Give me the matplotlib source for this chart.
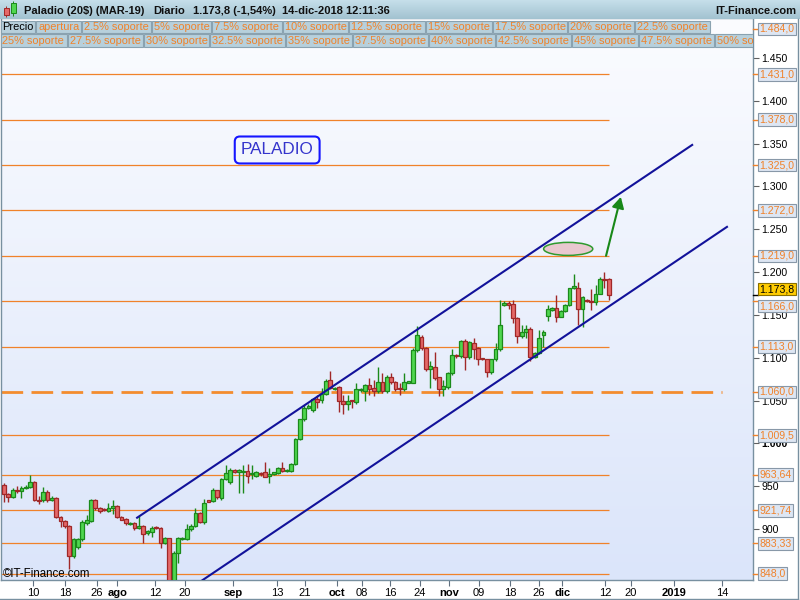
import numpy as np
import matplotlib
matplotlib.use("Agg")
import matplotlib.pyplot as plt
import matplotlib.transforms as mtransforms
from matplotlib.colors import LinearSegmentedColormap
from matplotlib.patches import Rectangle, Ellipse

plt.rcParams["font.family"] = ["Liberation Sans", "DejaVu Sans"]

# daily candles, Paladio (20$) MAR-19, jul - dic 2018
opens = [951, 941, 937, 946, 944, 948, 949, 955, 934, 934, 943, 934, 936, 914, 909, 904,
         868, 879, 888, 907, 909, 934, 925, 923, 921, 925, 927, 914, 912, 906, 907, 901,
         904, 895, 897, 902, 901, 884, 889, 835, 872, 888, 888, 900, 903, 919, 908, 933,
         933, 945, 936, 958, 955, 969, 967, 966, 968, 964, 962, 965, 967, 962, 964, 965,
         971, 968, 968, 976, 1005, 1028, 1041, 1039, 1052, 1051, 1058, 1074, 1063, 1066,
         1050, 1046, 1050, 1048, 1062, 1061, 1068, 1065, 1061, 1072, 1061, 1078, 1072, 1065,
         1063, 1071, 1071, 1109, 1124, 1111, 1087, 1089, 1077, 1063, 1066, 1082, 1103, 1102,
         1120, 1101, 1117, 1111, 1099, 1098, 1083, 1098, 1110, 1162, 1164, 1163, 1146, 1125,
         1130, 1134, 1101, 1105, 1126, 1149, 1156, 1158, 1148, 1154, 1161, 1181, 1182, 1157,
         1168, 1166, 1165, 1175, 1192, 1192]
highs = [954, 942, 948, 950, 950, 951, 963, 956, 938, 949, 945, 938, 937, 915, 910, 905,
         890, 890, 911, 916, 935, 935, 926, 924, 930, 934, 928, 915, 913, 908, 908, 915,
         905, 899, 903, 903, 902, 891, 890, 874, 891, 891, 906, 906, 925, 920, 935, 934,
         948, 946, 960, 975, 971, 970, 970, 975, 976, 975, 968, 966, 978, 971, 967, 972,
         978, 970, 977, 1006, 1029, 1045, 1046, 1053, 1057, 1065, 1075, 1084, 1066, 1067,
         1057, 1057, 1051, 1070, 1065, 1069, 1076, 1074, 1089, 1082, 1080, 1082, 1073, 1070,
         1082, 1073, 1111, 1137, 1126, 1112, 1096, 1107, 1078, 1074, 1083, 1110, 1104, 1121,
         1122, 1119, 1123, 1112, 1100, 1099, 1099, 1117, 1168, 1166, 1166, 1167, 1147, 1138,
         1138, 1136, 1107, 1132, 1132, 1162, 1159, 1173, 1156, 1163, 1182, 1198, 1188, 1172,
         1169, 1180, 1185, 1194, 1200, 1193]
lows = [931, 932, 936, 942, 936, 947, 948, 933, 929, 932, 932, 933, 913, 902, 901, 853,
        866, 877, 886, 905, 908, 922, 919, 921, 920, 917, 913, 910, 905, 905, 899, 900,
        884, 893, 891, 900, 878, 882, 828, 830, 860, 887, 887, 898, 902, 907, 906, 931,
        931, 935, 934, 957, 953, 965, 942, 942, 954, 958, 961, 962, 961, 954, 963, 964,
        967, 967, 967, 975, 1004, 1026, 1040, 1037, 1041, 1047, 1056, 1063, 1062, 1037,
        1034, 1039, 1041, 1046, 1060, 1050, 1057, 1055, 1059, 1059, 1059, 1069, 1061, 1057,
        1061, 1070, 1070, 1107, 1109, 1085, 1065, 1074, 1055, 1055, 1064, 1080, 1100, 1100,
        1086, 1099, 1098, 1092, 1097, 1078, 1081, 1096, 1108, 1160, 1157, 1140, 1117, 1123,
        1123, 1096, 1100, 1104, 1112, 1143, 1155, 1142, 1147, 1153, 1160, 1180, 1138, 1136,
        1165, 1156, 1162, 1174, 1181, 1168]
closes = [941, 937, 946, 944, 948, 949, 955, 934, 933, 943, 934, 936, 914, 909, 904, 868,
          888, 888, 908, 910, 934, 924, 921, 922, 925, 927, 914, 911, 907, 907, 901, 904,
          894, 898, 901, 901, 884, 889, 835, 872, 889, 889, 900, 904, 919, 908, 930, 932,
          946, 937, 958, 965, 969, 967, 968, 968, 962, 965, 966, 964, 961, 964, 966, 971,
          968, 969, 976, 1005, 1028, 1041, 1044, 1052, 1048, 1058, 1073, 1065, 1065, 1049,
          1046, 1049, 1049, 1063, 1063, 1068, 1063, 1061, 1072, 1061, 1078, 1072, 1064, 1063,
          1072, 1072, 1109, 1126, 1111, 1087, 1090, 1076, 1063, 1067, 1082, 1103, 1102, 1120,
          1101, 1118, 1110, 1099, 1098, 1083, 1098, 1110, 1138, 1164, 1162, 1146, 1125, 1130,
          1134, 1101, 1106, 1123, 1130, 1157, 1158, 1147, 1155, 1162, 1181, 1184, 1157, 1171,
          1166, 1165, 1175, 1192, 1191, 1173.8]

last_price = 1173.8
last_label = "1.173,8"

# support levels on the right scale
levels = [1484.0, 1431.0, 1378.0, 1325.0, 1272.0, 1219.0, 1166.0, 1113.0, 1060.0,
          1009.5, 963.64, 921.74, 883.33, 848.0]
level_labels = ["1.484,0", "1.431,0", "1.378,0", "1.325,0", "1.272,0", "1.219,0", "1.166,0",
                "1.113,0", "1.060,0", "1.009,5", "963,64", "921,74", "883,33", "848,0"]
dashed_level = 1060.0

price_ticks = [1450, 1400, 1350, 1300, 1250, 1200, 1150, 1100, 1050, 1000, 950, 900]
price_tick_labels = ["1.450", "1.400", "1.350", "1.300", "1.250", "1.200", "1.150",
                     "1.100", "1.050", "1.000", "950", "900"]

# date axis, in candle index units
date_tick_pos = [6.7, 14.0, 21.4, 26.0, 34.7, 41.6, 52.6, 62.8, 69.2, 76.6, 82.3, 88.7,
                 95.6, 102.3, 109.2, 116.3, 123.0, 128.3, 138.2, 144.1, 154.0, 165.1]
date_tick_labels = ["10", "18", "26", "ago", "12", "20", "sep", "13", "21", "oct", "08", "16",
                    "24", "nov", "09", "18", "26", "dic", "12", "20", "2019", "14"]
month_labels = ["ago", "sep", "oct", "nov", "dic", "2019"]

# drawn channel (index, price)
upper_x, upper_y = [30.6, 158.2], [913.2, 1348.5]
lower_x, lower_y = [44.0, 166.2], [834.7, 1252.8]

# header legend rows
row2_labels = ["Precio", "apertura", "2.5% soporte", "5% soporte", "7.5% soporte", "10% soporte",
               "12.5% soporte", "15% soporte", "17.5% soporte", "20% soporte", "22.5% soporte"]
row3_labels = ["25% soporte", "27.5% soporte", "30% soporte", "32.5% soporte", "35% soporte",
               "37.5% soporte", "40% soporte", "42.5% soporte", "45% soporte", "47.5% soporte",
               "50% soporte"]
row2_edges = [0, 36, 82, 152, 212, 283, 349, 426, 493, 568, 635, 711]
row3_edges = [0, 68, 144, 210, 286, 353, 429, 496, 572, 639, 715, 790]

W, H = 800, 600
X0, STEP = 4.0, 4.35          # pixel of first candle, pixels per candle
PX_PER_UNIT, Y_REF, V_REF = 0.8564, 58.0, 1450.0

GREEN, GREEN_E = "#4fd64f", "#1b8a1b"
RED, RED_E = "#e46868", "#a02828"
ORANGE = "#f0822a"
NAVY = "#12129a"
FRAME = "#7890a0"

fig = plt.figure(figsize=(8, 6), dpi=100)
fig.patch.set_facecolor("white")


def px_axes(x0, y0, x1, y1):
    return fig.add_axes([x0 / W, 1 - y1 / H, (x1 - x0) / W, (y1 - y0) / H])


def px2val(y):
    return V_REF - (y - Y_REF) / PX_PER_UNIT


def val2px(v):
    return Y_REF + (V_REF - v) * PX_PER_UNIT


ax = px_axes(1, 18, 753, 580)
xlim = ((1 - X0) / STEP, (753 - X0) / STEP)
ylim = (px2val(580), px2val(18))

bg = LinearSegmentedColormap.from_list("bg", ["#dbe5fa", "#fbfcff"])
ax.imshow(np.linspace(0, 1, 256).reshape(-1, 1), cmap=bg, origin="lower", aspect="auto",
          extent=[0, 1, 0, 1], transform=ax.transAxes, zorder=0)

last_idx = len(opens) - 1
solid = [v for v in levels if v != dashed_level]
ax.hlines(solid, xlim[0], last_idx, color=ORANGE, lw=0.9, zorder=1)
ax.hlines(dashed_level, xlim[0], 165, color="#f38c2e", lw=2.0, ls=(0, (7.8, 3.0)), zorder=1)

o = np.array(opens, float)
c = np.array(closes, float)
hi = np.array(highs, float)
lo = np.array(lows, float)
idx = np.arange(len(o))
up = c >= o
bottom = np.minimum(o, c)
height = np.maximum(np.abs(c - o), 1.4)
for m, fc, ec in [(up, GREEN, GREEN_E), (~up, RED, RED_E)]:
    ax.vlines(idx[m], lo[m], hi[m], color=ec, lw=1.0, zorder=3)
    ax.bar(idx[m], height[m], bottom=bottom[m], width=0.86, color=fc, edgecolor=ec,
           lw=0.9, zorder=4)

ax.plot(upper_x, upper_y, color=NAVY, lw=1.5, zorder=5)
ax.plot(lower_x, lower_y, color=NAVY, lw=1.5, zorder=5)

ax.add_patch(Ellipse((129.7, 1227.1), 11.3, 15.2, fc="#e9c8cf", ec="#2e9a2e", lw=1.1, zorder=6))
ax.annotate("", xy=(141.8, 1287.8), xytext=(138.4, 1219.0),
            arrowprops=dict(arrowstyle="-|>,head_length=0.55,head_width=0.3", color="#188818",
                            lw=1.5, shrinkA=0, shrinkB=0, mutation_scale=12), zorder=6)

ax.text(62.8, 1342.6, "PALADIO", fontsize=12.3, color="#3434cc", ha="center", va="center",
        bbox=dict(boxstyle="round,pad=0.35,rounding_size=0.3", fc="none", ec="#1515ff", lw=1.5),
        zorder=6)
ax.text(2 / 752, 6 / 562, "\u00a9IT-Finance.com", transform=ax.transAxes, fontsize=8.3,
        color="black", ha="left", va="center", zorder=7)

ax.set_xlim(*xlim)
ax.set_ylim(*ylim)

# right price scale
ax.yaxis.tick_right()
ax.set_yticks(price_ticks)
ax.set_yticklabels(price_tick_labels)
ax.tick_params(axis="y", length=4, width=0.8, color="#606060", pad=2, labelsize=7.6,
               labelcolor="black")
for t in ax.get_yticklabels():
    if t.get_text() == "1.000":
        t.set_fontweight("bold")

blend = mtransforms.blended_transform_factory(ax.transAxes, ax.transData)
dx = 5 / 752
# the last-price box pushes the neighbouring level label down a little
label_shift_px = {1166.0: 5.0}
for v, lab in zip(levels, level_labels):
    ax.plot([1.0, 1.0 + dx], [v, v], transform=blend, color=ORANGE, lw=1, clip_on=False, zorder=8)
    ty = px2val(val2px(v) + label_shift_px.get(v, 0.0))
    ax.text(1.0 + dx + 1.5 / 752, ty, lab, transform=blend, fontsize=7.6, color=ORANGE,
            ha="left", va="center", clip_on=False, zorder=9,
            bbox=dict(boxstyle="square,pad=0.12", fc="#dde6f3", ec="#8898a8", lw=0.8))
ax.plot([1.0, 1.0 + dx], [last_price, last_price], transform=blend, color="black", lw=1,
        clip_on=False, zorder=8)
ax.text(1.0 + dx + 1.5 / 752, px2val(val2px(last_price) - 5.5), last_label, transform=blend,
        fontsize=7.6, color="black", ha="left", va="center", clip_on=False, zorder=10,
        bbox=dict(boxstyle="square,pad=0.12", fc="#ffcc00", ec="#8a7000", lw=0.8))

# date scale
ax.set_xticks(date_tick_pos)
ax.set_xticklabels(date_tick_labels)
ax.tick_params(axis="x", length=4, width=0.8, color="#607080", pad=1.5, labelsize=8)
for t in ax.get_xticklabels():
    if t.get_text() in month_labels:
        t.set_fontweight("bold")
for s in ax.spines.values():
    s.set_color(FRAME)
    s.set_linewidth(1)

# title bar
tax = px_axes(0, 0, 800, 19)
tax.set_xlim(0, 800)
tax.set_ylim(19, 0)
tax.axis("off")
bar = LinearSegmentedColormap.from_list("bar", ["#a2c2d0", "#c6dfea"])
tax.imshow(np.linspace(0, 1, 64).reshape(-1, 1), cmap=bar, origin="lower", aspect="auto",
           extent=[0, 800, 19, 0], zorder=0)
tax.add_patch(Rectangle((4, 8), 4.5, 7, fc=RED, ec=RED_E, lw=0.7, zorder=2))
tax.vlines(6.25, 6, 17, color=RED_E, lw=0.7, zorder=1)
tax.add_patch(Rectangle((11, 3), 4.5, 10, fc=GREEN, ec=GREEN_E, lw=0.7, zorder=2))
tax.vlines(13.25, 1, 16, color=GREEN_E, lw=0.7, zorder=1)
for x, s in [(24, "Paladio (20$) (MAR-19)"), (153, "Diario"), (193, "1.173,8 (-1,54%)"),
             (282, "14-dic-2018 12:11:36")]:
    tax.text(x, 10.5, s, fontsize=8, fontweight="bold", color="#101010", ha="left", va="center")
tax.text(796, 10.5, "IT-Finance.com", fontsize=8, fontweight="bold", color="#101010",
         ha="right", va="center")

# legend rows
rax = px_axes(0, 19, 753, 49)
rax.set_xlim(0, 753)
rax.set_ylim(49, 19)
rax.axis("off")
rax.patch.set_alpha(0)
for labels, edges, y0, y1 in [(row2_labels, row2_edges, 20.5, 33.0),
                              (row3_labels, row3_edges, 33.5, 47.0)]:
    for i, lab in enumerate(labels):
        x0, x1 = edges[i], edges[i + 1]
        rax.add_patch(Rectangle((x0 + 0.5, y0), x1 - x0 - 1, y1 - y0, fc="#b7d0dc",
                                ec="#8aa2b0", lw=0.8, zorder=1))
        col = "black" if lab == "Precio" else ORANGE
        rax.text(x0 + 2.5, (y0 + y1) / 2 + 0.3, lab, fontsize=7.9, color=col, ha="left",
                 va="center", zorder=2, clip_on=True)

# outer frame
fig.add_artist(plt.Line2D([0, 798 / W], [1.5 / H, 1.5 / H], transform=fig.transFigure,
                          color=FRAME, lw=1))
fig.add_artist(plt.Line2D([798 / W, 798 / W], [1.5 / H, 1 - 19 / H], transform=fig.transFigure,
                          color=FRAME, lw=1))

fig.savefig("out.png", dpi=100)
